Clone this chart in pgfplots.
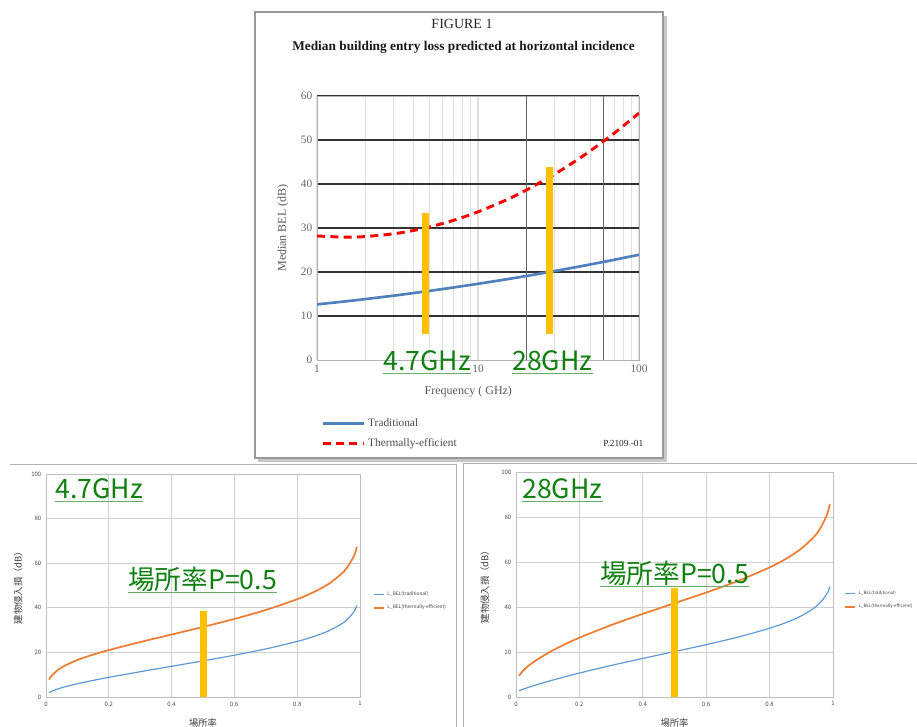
\documentclass[border=0pt]{standalone}
\usepackage{pgfplots}
\usepackage{pgfplotstable}
\pgfplotsset{compat=1.18}
\usepackage{fontspec}
\setmainfont{Liberation Serif}
\newfontfamily\cjk{Noto Sans CJK JP}
\definecolor{bargold}{RGB}{255,192,0}
\definecolor{tradblue}{RGB}{79,129,189}
\definecolor{exblue}{RGB}{91,155,213}
\definecolor{exorange}{RGB}{237,125,49}
\definecolor{lblgreen}{RGB}{16,128,16}
\definecolor{ulgreen}{RGB}{100,175,100}

\pgfplotstableread{
f T H
1 12.64 28.19
1.5 13.32 27.92
2 13.85 28.06
3 14.63 28.69
4 15.23 29.46
5 15.71 30.24
7 16.47 31.71
10 17.32 33.67
15 18.34 36.39
20 19.10 38.64
30 20.23 42.26
40 21.06 45.15
50 21.73 47.57
70 22.77 51.52
100 23.92 56.11
}\topdata

\pgfplotstableread{
P T H
0.01 1.89 7.80
0.02 2.68 9.91
0.05 4.18 13.31
0.10 5.95 16.60
0.15 7.45 18.99
0.20 8.81 21.03
0.30 11.34 24.64
0.40 13.77 28.02
0.50 16.20 31.41
0.60 18.74 35.01
0.70 21.56 39.01
0.80 24.92 43.85
0.85 27.01 46.88
0.90 29.66 50.72
0.95 33.60 56.49
0.98 38.07 63.02
0.99 41.04 67.36
}\datafour

\pgfplotstableread{
P T H
0.01 2.77 9.37
0.02 3.37 11.35
0.05 4.79 15.05
0.10 6.89 19.48
0.15 8.83 23.15
0.20 10.66 26.35
0.30 14.02 31.96
0.40 17.15 36.94
0.50 20.18 41.68
0.60 23.27 46.44
0.70 26.62 51.58
0.80 30.56 57.60
0.85 33.00 61.30
0.90 36.05 65.96
0.95 40.58 72.86
0.98 45.69 80.63
0.99 49.09 85.80
}\datatwentyeight

\pgfplotsset{
  belstyle/.style={
    scale only axis,
    xmin=0, xmax=1, ymin=0, ymax=100,
    xtick={0,0.2,0.4,0.6,0.8,1},
    xticklabels={0,0.2,0.4,0.6,0.8,1},
    ytick={0,20,40,60,80,100},
    grid=major,
    grid style={black!18, line width=0.7pt},
    axis line style={black!25},
    major tick length=0pt,
    /pgf/number format/assume math mode=true,
    tick label style={font=\cjk\fontsize{4.5}{5}\selectfont, text=black!70},
    label style={font=\cjk\fontsize{7}{8}\selectfont, text=black!75},
    xlabel={場所率},
    ylabel={建物侵入損（dB）},
    legend style={draw=none, fill=none, font=\cjk\fontsize{3.6}{4}\selectfont,
      row sep=1.5pt, text=black!75, anchor=west},
    legend cell align=left,
    legend image code/.code={\draw[##1] (0pt,0pt) -- (7.5pt,0pt);},
  }
}

\newcommand\glabel[4]{%
  \node[inner sep=0pt, anchor=base west, text=lblgreen,
        font=\cjk\fontsize{20}{22}\selectfont] (#1) at (#2,#3) {#4};
  \draw[ulgreen, line width=1.2pt] ([yshift=-2.5pt]#1.base west) -- ([yshift=-2.5pt]#1.base east);
}

\begin{document}
\begin{tikzpicture}
\begin{scope}[x=0.75pt,y=-0.75pt]
\draw[black!30, line width=0.75pt] (10,464) -- (457,464);
\draw[black!30, line width=0.75pt] (456,464) -- (456,727);
\draw[black!30, line width=0.75pt] (463,463) -- (917,463);
\draw[black!30, line width=0.75pt] (463,463) -- (463,727);
\fill[black!22] (258,16) rectangle (667,462);
\draw[black!40, line width=1.2pt, fill=white] (255,12) rectangle (663,458);
\end{scope}

% ---------- top chart ----------
\begin{axis}[
  at={(237.75pt,-270pt)}, anchor=south west,
  scale only axis, width=241.5pt, height=198pt,
  xmode=log, log basis x=10,
  xmin=1, xmax=100, ymin=0, ymax=60,
  xtick={1,10,100}, xticklabels={1,10,100},
  minor xtick={2,3,4,5,6,7,8,9,20,30,40,50,60,70,80,90},
  ytick={10,20,30,40,50,60},
  extra y ticks={0}, extra y tick style={grid=none},
  extra x ticks={20,60}, extra x tick labels={},
  extra x tick style={grid=major, major x grid style={black!60, line width=1pt}},
  xmajorgrids, xminorgrids, ymajorgrids,
  major x grid style={black!12, line width=0.8pt},
  minor x grid style={black!12, line width=0.8pt},
  major y grid style={black!80, line width=1.6pt},
  major tick length=0pt, minor tick length=0pt,
  axis line style={black!30, line width=0.6pt},
  /pgf/number format/assume math mode=true,
  tick label style={font=\fontsize{8.5}{9}\selectfont, text=black!60},
  xlabel={Frequency ( GHz)}, ylabel={Median BEL (dB)},
  label style={font=\fontsize{9}{10}\selectfont, text=black!65},
  xlabel style={at={(axis description cs:0.47,-0.121)}, anchor=center},
  ylabel style={at={(axis description cs:-0.106,0.5)}, anchor=center},
  legend style={at={(axis description cs:0.0,-0.2)}, anchor=north west,
    draw=none, fill=none, font=\fontsize{8.5}{9}\selectfont, row sep=4pt, text=black!70},
  legend cell align=left,
  legend image code/.code={\draw[#1] (0pt,0pt) -- (31pt,0pt);},
]
\addplot[tradblue, line width=2pt, smooth] table[x=f,y=T]{\topdata};
\addlegendentry{Traditional}
\addplot[red, line width=2.2pt, dash pattern=on 6pt off 4pt, smooth] table[x=f,y=H]{\topdata};
\addlegendentry{Thermally-efficient}
\addplot[bargold, line width=5.25pt, forget plot] coordinates {(4.7,6) (4.7,33.4)};
\addplot[bargold, line width=5.25pt, forget plot] coordinates {(28,6) (28,43.9)};
\end{axis}

% ---------- bottom left ----------
\begin{axis}[belstyle,
  at={(34.5pt,-522.75pt)}, anchor=south west,
  width=235.5pt, height=167.25pt,
  xlabel style={at={(axis description cs:0.5,-0.117)}, anchor=center},
  ylabel style={at={(axis description cs:-0.089,0.5)}, anchor=center},
  legend style={at={(axis description cs:1.028,0.43)}},
]
\addplot[exblue, line width=0.9pt, smooth] table[x=P,y=T]{\datafour};
\addlegendentry{L\_BEL(traditional)}
\addplot[exorange, line width=1.3pt, smooth] table[x=P,y=H]{\datafour};
\addlegendentry{L\_BEL(thermally-efficient)}
\addplot[bargold, line width=5.25pt, forget plot] coordinates {(0.5,0) (0.5,38.6)};
\end{axis}

% ---------- bottom right ----------
\begin{axis}[belstyle,
  at={(387pt,-522.75pt)}, anchor=south west,
  width=237.75pt, height=168.75pt,
  xlabel style={at={(axis description cs:0.5,-0.116)}, anchor=center},
  ylabel style={at={(axis description cs:-0.098,0.5)}, anchor=center},
  legend style={at={(axis description cs:1.022,0.43)}, font=\cjk\fontsize{3.3}{4}\selectfont},
]
\addplot[exblue, line width=0.9pt, smooth] table[x=P,y=T]{\datatwentyeight};
\addlegendentry{L\_BEL(traditional)}
\addplot[exorange, line width=1.3pt, smooth] table[x=P,y=H]{\datatwentyeight};
\addlegendentry{L\_BEL(thermally-efficient)}
\addplot[bargold, line width=5.25pt, forget plot] coordinates {(0.5,0) (0.5,48.4)};
\end{axis}

\begin{scope}[x=0.75pt,y=-0.75pt]
\node[font=\fontsize{10.5}{12}\selectfont, anchor=base, text=black!85] at (462,29) {FIGURE 1};
\node[font=\bfseries\fontsize{10}{12}\selectfont, anchor=base, text=black!90] at (463.5,51) {Median building entry loss predicted at horizontal incidence};
\node[font=\fontsize{7}{8}\selectfont, anchor=base east, text=black!85] at (648,446) {P.2109 -01};
\glabel{a}{383}{370}{4.7GHz}
\glabel{b}{512}{370}{28GHz}
\glabel{c}{55}{498}{4.7GHz}
\glabel{d}{128}{589}{場所率P=0.5}
\glabel{e}{522}{498}{28GHz}
\glabel{f}{600}{583}{場所率P=0.5}
\end{scope}
\pgfresetboundingbox
\path[use as bounding box] (0pt,0pt) rectangle (687.75pt,-545.25pt);
\end{tikzpicture}
\end{document}
